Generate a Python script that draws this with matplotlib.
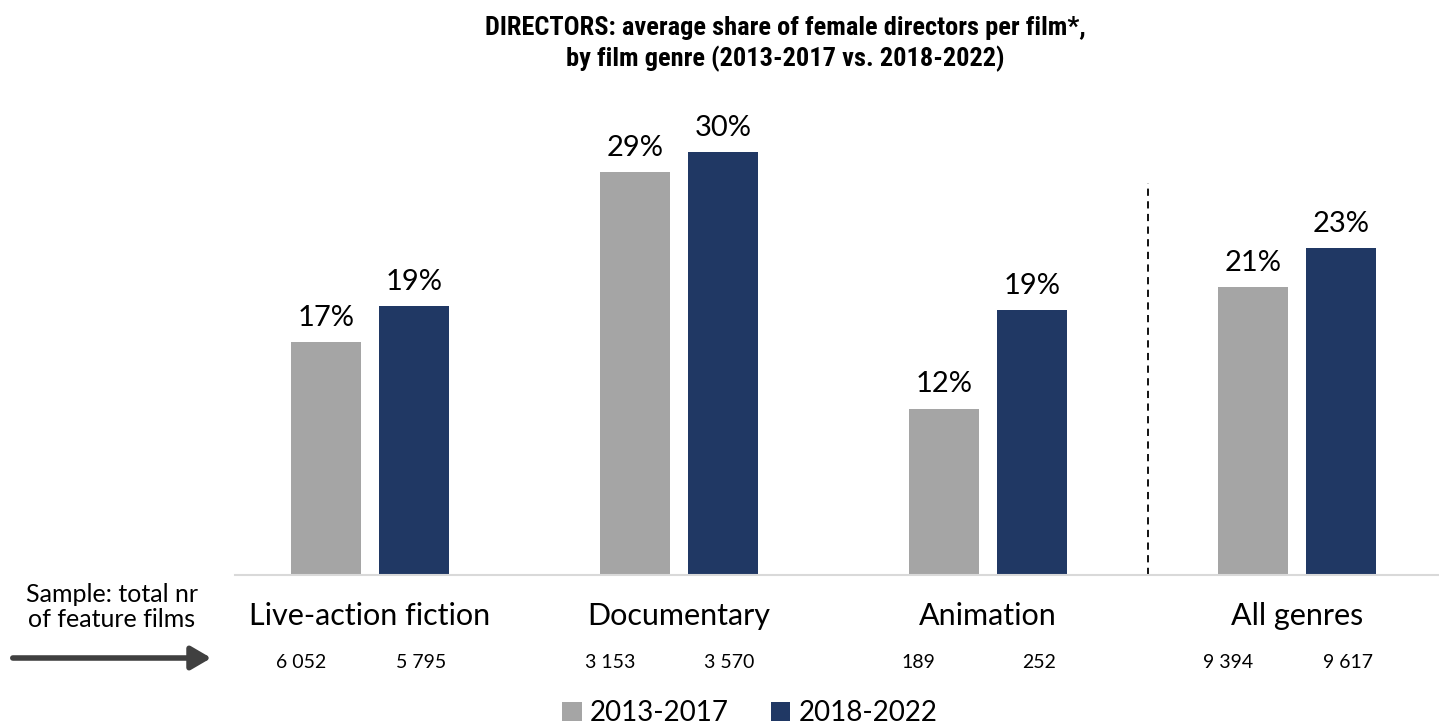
import matplotlib
matplotlib.use("Agg")
import matplotlib.pyplot as plt
import numpy as np

genres = ["Live-action fiction", "Documentary", "Animation", "All genres"]
periods = ["2013-2017", "2018-2022"]
share_1317 = [16.5, 28.6, 11.8, 20.4]
share_1822 = [19.1, 30.0, 18.8, 23.2]
labels_1317 = ["17%", "29%", "12%", "21%"]
labels_1822 = ["19%", "30%", "19%", "23%"]
sample_1317 = ["6 052", "3 153", "189", "9 394"]
sample_1822 = ["5 795", "3 570", "252", "9 617"]

GRAY = "#A5A5A5"
NAVY = "#203864"
BODY = ["Lato", "DejaVu Sans"]
TITLE = ["Liberation Sans Narrow", "Roboto Condensed", "Open Sans", "DejaVu Sans"]

W, H = 1439, 728
fig = plt.figure(figsize=(W / 100, H / 100), dpi=100)
ax = fig.add_axes([235 / W, (H - 575) / H, 1 - 235 / W, 451 / H])

x = np.arange(len(genres))
bw, off = 0.2265, 0.1424
ax.bar(x - off, share_1317, bw, color=GRAY, label=periods[0])
ax.bar(x + off, share_1822, bw, color=NAVY, label=periods[1])

for xi, v, s in zip(x - off, share_1317, labels_1317):
    ax.text(xi, v + 0.8, s, ha="center", va="bottom", fontsize=21, family=BODY)
for xi, v, s in zip(x + off, share_1822, labels_1822):
    ax.text(xi, v + 0.8, s, ha="center", va="bottom", fontsize=21, family=BODY)

# separator before the "all genres" group
ax.plot([2.518, 2.518], [0, 27.8], ls=(0, (4, 3)), color="black", lw=1.3)

ax.set_xlim(-0.437, 3.46)
ax.set_ylim(0, 32)
ax.set_yticks([])
ax.set_xticks([])
for side in ["top", "right", "left"]:
    ax.spines[side].set_visible(False)
ax.spines["bottom"].set_color("#D9D9D9")
ax.spines["bottom"].set_linewidth(1.5)

# genre names and sample sizes under the axis
tr = ax.get_xaxis_transform()
for xi, g in zip(x, genres):
    ax.text(xi, -0.09, g, transform=tr, ha="center", va="center",
            fontsize=22, family=BODY)
for xi, s in zip(x - 0.224, sample_1317):
    ax.text(xi, -0.193, s, transform=tr, ha="center", va="center",
            fontsize=14, family=BODY)
for xi, s in zip(x + 0.164, sample_1822):
    ax.text(xi, -0.193, s, transform=tr, ha="center", va="center",
            fontsize=14, family=BODY)

fig.text(112 / W, 1 - 607 / H, "Sample: total nr\nof feature films", ha="center",
         va="center", fontsize=18, family=BODY, linespacing=1.15)
fig.add_artist(matplotlib.patches.FancyArrowPatch(
    (10 / W, 1 - 658 / H), (214 / W, 1 - 658 / H), transform=fig.transFigure,
    arrowstyle="-|>,head_length=12,head_width=7", mutation_scale=1,
    color="#404040", lw=4))

fig.text(785 / W, 1 - 44 / H,
         "DIRECTORS: average share of female directors per film*,\n"
         "by film genre (2013-2017 vs. 2018-2022)",
         ha="center", va="center", fontsize=19, fontweight="bold",
         family=TITLE, linespacing=1.25)

leg = fig.legend(loc="center", bbox_to_anchor=(750 / W, 1 - 713 / H), ncol=2,
                 frameon=False, prop={"family": BODY, "size": 20},
                 handlelength=0.7, handleheight=0.7, handletextpad=0.3,
                 columnspacing=1.5)

fig.savefig("out.png", dpi=100)
